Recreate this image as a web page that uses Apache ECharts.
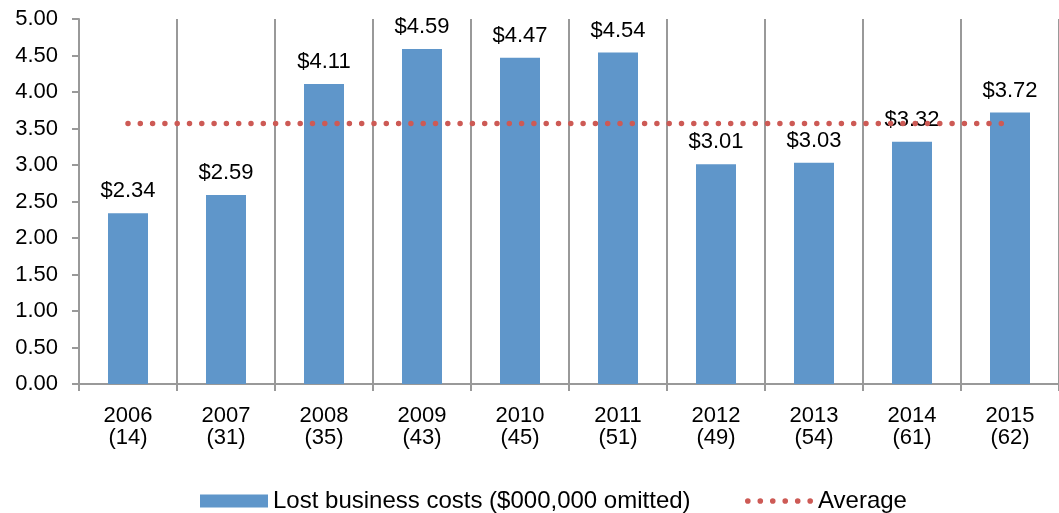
<!DOCTYPE html>
<html>
<head>
<meta charset="utf-8">
<script src="https://cdn.jsdelivr.net/npm/echarts@6/dist/echarts.min.js"></script>
<style>
  html, body { margin: 0; padding: 0; background: #fff; }
  #chart { width: 1059px; height: 513px; }
</style>
</head>
<body>
<div id="chart"></div>
<script>
  var years = ['2006', '2007', '2008', '2009', '2010', '2011', '2012', '2013', '2014', '2015']
  var counts = ['14', '31', '35', '43', '45', '51', '49', '54', '61', '62']
  var lostCosts = [2.34, 2.59, 4.11, 4.59, 4.47, 4.54, 3.01, 3.03, 3.32, 3.72]
  var average = [3.57, 3.57, 3.57, 3.57, 3.57, 3.57, 3.57, 3.57, 3.57, 3.57]

  var font = 'Liberation Sans, Arial, sans-serif'
  var barName = 'Lost business costs ($000,000 omitted)'
  var avgColor = '#CD5A55'

  // six little dots for the Average legend key
  var dots = ''
  for (var i = 0; i < 6; i++) {
    var cx = 3 + i * 12.4
    dots += 'M' + (cx - 2.8) + ',3a2.8,2.8 0 1,0 5.6,0a2.8,2.8 0 1,0 -5.6,0'
  }

  var chart = echarts.init(document.getElementById('chart'))
  chart.setOption({
    animation: false,
    textStyle: { fontFamily: font },
    grid: { left: 79, top: 19, bottom: 129, width: 987 },
    legend: [{
      top: 484,
      left: 195,
      itemWidth: 68,
      itemHeight: 13,
      textStyle: { fontSize: 24, color: '#000', fontFamily: font },
      data: [{ name: barName, icon: 'rect' }]
    }, {
      top: 484,
      left: 740,
      itemWidth: 68,
      itemHeight: 6,
      textStyle: { fontSize: 24, color: '#000', fontFamily: font },
      data: [{ name: 'Average', icon: 'path://' + dots, itemStyle: { color: avgColor } }]
    }],
    xAxis: {
      type: 'category',
      data: years.map((y, i) => y + '\n(' + counts[i] + ')'),
      axisLine: { lineStyle: { color: '#999', width: 2 } },
      axisTick: { show: true, length: 7, lineStyle: { color: '#999', width: 2 } },
      splitLine: { show: true, lineStyle: { color: '#999', width: 2 } },
      axisLabel: { color: '#000', fontSize: 22, margin: 21, lineHeight: 22 }
    },
    yAxis: {
      type: 'value',
      min: 0,
      max: 5,
      interval: 0.5,
      axisLine: { show: true, lineStyle: { color: '#999', width: 2 } },
      axisTick: { show: true, length: 7, lineStyle: { color: '#999', width: 2 } },
      splitLine: { show: false },
      axisLabel: {
        color: '#000', fontSize: 22, margin: 21,
        formatter: v => v.toFixed(2)
      }
    },
    series: [
      {
        name: barName,
        type: 'bar',
        data: lostCosts,
        barWidth: 40,
        itemStyle: { color: '#5F96CA' },
        label: {
          show: true,
          position: 'top',
          distance: 11,
          fontSize: 22,
          color: '#000',
          formatter: p => '$' + p.value.toFixed(2)
        },
        z: 2
      },
      {
        name: 'Average',
        type: 'line',
        data: average,
        symbol: 'none',
        itemStyle: { color: avgColor },
        lineStyle: { color: avgColor, width: 5.5, type: [0, 12.3], cap: 'round' },
        z: 3
      }
    ]
  })
</script>
</body>
</html>
